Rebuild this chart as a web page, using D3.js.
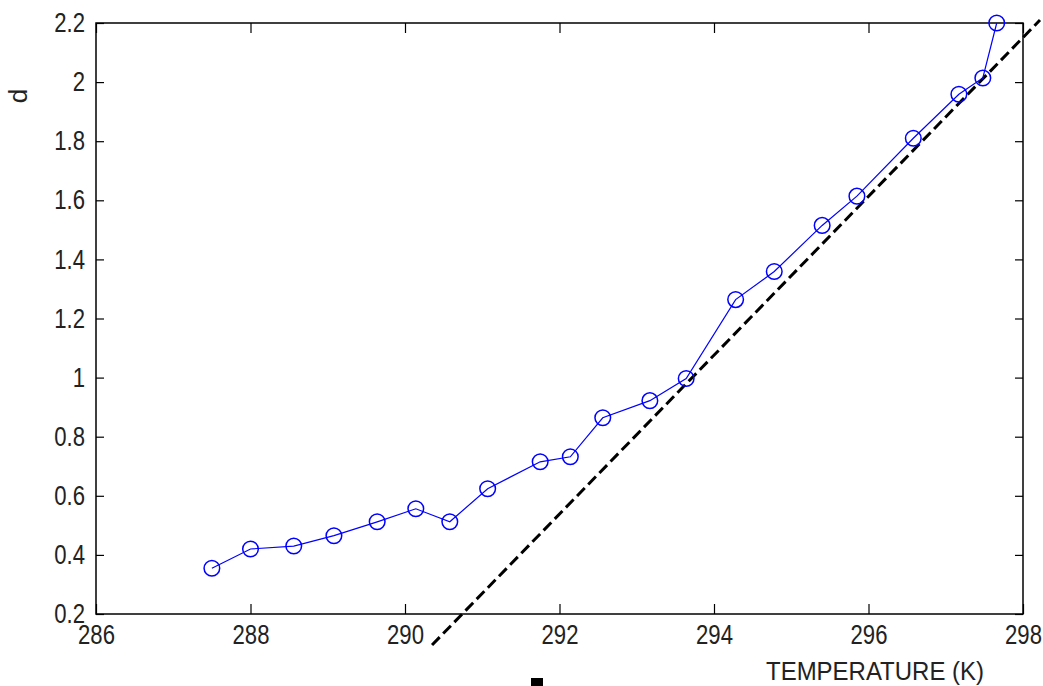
<!DOCTYPE html>
<html>
<head>
<meta charset="utf-8">
<script src="https://cdn.jsdelivr.net/npm/d3@7"></script>
<style>
  body { margin: 0; background: #fff; }
  svg text { font-family: "Liberation Sans", Arial, sans-serif; fill: #222; }
</style>
</head>
<body>
<div id="chart"></div>
<script>
    // measured points (temperature in K, d)
    const temps = [287.5, 288.0, 288.56, 289.08, 289.64, 290.14, 290.58, 291.07, 291.75, 292.14, 292.56,
        293.17, 293.64, 294.28, 294.78, 295.40, 295.85, 296.58, 297.17, 297.48, 297.66];
    const dvals = [0.355, 0.42, 0.43, 0.465, 0.512, 0.556, 0.512, 0.624, 0.715, 0.732, 0.864,
        0.922, 0.997, 1.264, 1.359, 1.515, 1.614, 1.81, 1.959, 2.014, 2.2];

    // dashed fit line end points
    const fitX = [290.35, 298.22];
    const fitY = [0.095, 2.21];

    const xTicks = [286, 288, 290, 292, 294, 296, 298];
    const yTicks = [0.2, 0.4, 0.6, 0.8, 1, 1.2, 1.4, 1.6, 1.8, 2, 2.2];

    const w = 1043;
    const h = 686;
    const mLeft = 96, mRight = 1023, mTop = 23, mBottom = 614;
    const squeeze = 0.82; // narrow the tick font

    const x = d3.scaleLinear().domain([286, 298]).range([mLeft, mRight]);
    const y = d3.scaleLinear().domain([0.2, 2.2]).range([mBottom, mTop]);

    const svg = d3.select("#chart")
        .append("svg")
        .attr("width", w)
        .attr("height", h)

    // frame
    svg.append("rect")
        .attr("x", mLeft)
        .attr("y", mTop)
        .attr("width", mRight - mLeft)
        .attr("height", mBottom - mTop)
        .attr("fill", "none")
        .attr("stroke", "#000")
        .attr("stroke-width", 1.5)

    // ticks (inward, all four sides)
    const fmt = d => String(d);
    svg.append("g")
        .attr("transform", `translate(0,${mBottom})`)
        .call(d3.axisBottom(x).tickValues(xTicks).tickSize(-10).tickPadding(11).tickFormat(fmt))
        .call(g => g.select(".domain").remove())
        .call(g => g.selectAll(".tick text").attr("transform", `scale(${squeeze},1)`))
    svg.append("g")
        .attr("transform", `translate(0,${mTop})`)
        .call(d3.axisTop(x).tickValues(xTicks).tickSize(-10).tickFormat(""))
        .call(g => g.select(".domain").remove())
    svg.append("g")
        .attr("transform", `translate(${mLeft},0)`)
        .call(d3.axisLeft(y).tickValues(yTicks).tickSize(-8).tickFormat(fmt))
        .call(g => g.select(".domain").remove())
        .call(g => g.selectAll(".tick text")
            .attr("x", -11 / squeeze)
            .attr("transform", `scale(${squeeze},1)`))
    svg.append("g")
        .attr("transform", `translate(${mRight},0)`)
        .call(d3.axisRight(y).tickValues(yTicks).tickSize(-8).tickFormat(""))
        .call(g => g.select(".domain").remove())

    svg.selectAll(".tick line").attr("stroke", "#000").attr("stroke-width", 1.2)
    svg.selectAll(".tick text").style("font-size", "27px").attr("fill", "#222")

    // dashed fit line (not clipped)
    svg.append("line")
        .attr("x1", x(fitX[0])).attr("y1", y(fitY[0]))
        .attr("x2", x(fitX[1])).attr("y2", y(fitY[1]))
        .attr("stroke", "#000")
        .attr("stroke-width", 3)
        .attr("stroke-dasharray", "11,5")

    const pts = temps.map((t, i) => [t, dvals[i]]);

    svg.append("path")
        .datum(pts)
        .attr("fill", "none")
        .attr("stroke", "#0000ff")
        .attr("stroke-width", 1.2)
        .attr("d", d3.line().x(d => x(d[0])).y(d => y(d[1])))

    svg.selectAll("circle")
        .data(pts)
        .enter()
        .append("circle")
        .attr("cx", d => x(d[0]))
        .attr("cy", d => y(d[1]))
        .attr("r", 7.8)
        .attr("fill", "none")
        .attr("stroke", "#0000ff")
        .attr("stroke-width", 1.5)

    // axis labels
    svg.append("text")
        .attr("x", 766)
        .attr("y", 680)
        .attr("textLength", 218)
        .attr("lengthAdjust", "spacingAndGlyphs")
        .style("font-size", "25px")
        .text("TEMPERATURE (K)")

    svg.append("text")
        .attr("transform", "translate(27,96) rotate(-90)")
        .attr("text-anchor", "middle")
        .style("font-size", "26px")
        .text("d")

    // small black mark below the axis
    svg.append("rect")
        .attr("x", 531)
        .attr("y", 678)
        .attr("width", 12)
        .attr("height", 8)
        .attr("fill", "#000")
</script>
</body>
</html>
